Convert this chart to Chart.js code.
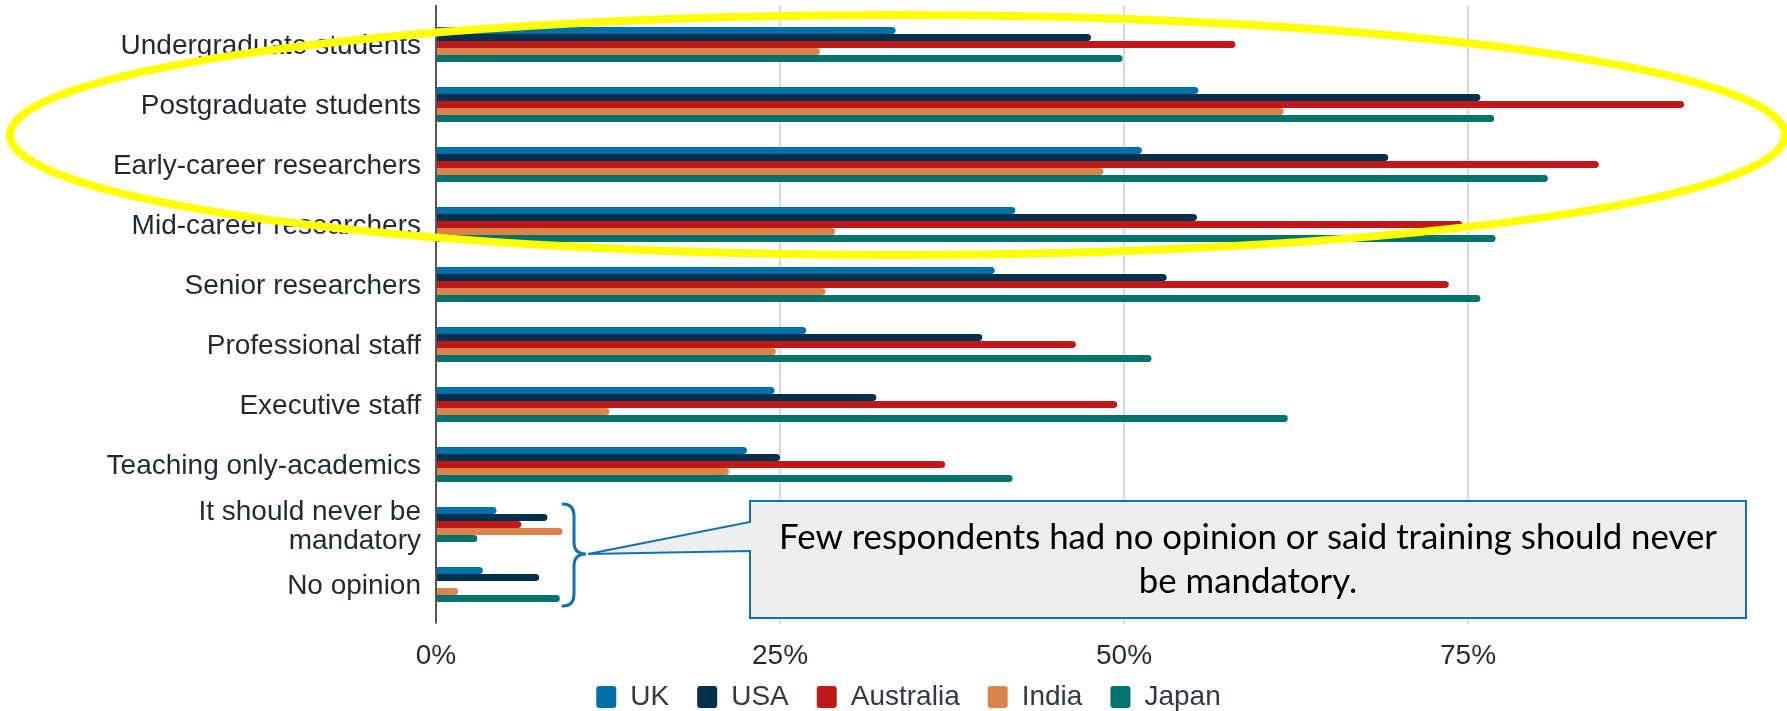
<!DOCTYPE html>
<html>
<head>
<meta charset="utf-8">
<script src="https://cdn.jsdelivr.net/npm/chart.js@4.4.0/dist/chart.umd.min.js"></script>
<style>
  html, body { margin: 0; padding: 0; background: #fff; }
  #wrap { width: 1787px; height: 711px; position: relative; }
</style>
</head>
<body>
<div id="wrap"><canvas id="chart"></canvas></div>
<script>
// category labels (y axis)
const categories = [
  'Undergraduate students',
  'Postgraduate students',
  'Early-career researchers',
  'Mid-career researchers',
  'Senior researchers',
  'Professional staff',
  'Executive staff',
  'Teaching only-academics',
  ['It should never be', 'mandatory'],
  'No opinion'
];

const countries = ['UK', 'USA', 'Australia', 'India', 'Japan'];

// percent of respondents
const ukValues        = [33.4, 55.4, 51.3, 42.1, 40.6, 26.9, 24.6, 22.6, 4.4, 3.4];
const usaValues       = [47.6, 75.9, 69.2, 55.3, 53.1, 39.7, 32.0, 25.0, 8.1, 7.5];
const australiaValues = [58.1, 90.7, 84.5, 74.6, 73.6, 46.5, 49.5, 37.0, 6.2, 0];
const indiaValues     = [27.9, 61.6, 48.5, 29.0, 28.3, 24.7, 12.6, 21.3, 9.2, 1.6];
const japanValues     = [49.9, 76.9, 80.8, 77.0, 75.9, 52.0, 61.9, 41.9, 3.0, 9.0];

const xTicks = [0, 25, 50, 75];
const calloutLines = [
  'Few respondents had no opinion or said training should never',
  'be mandatory.'
];

const colors = ['#0070AA', '#03304A', '#C0191C', '#DA844C', '#00736F'];
const seriesValues = [ukValues, usaValues, australiaValues, indiaValues, japanValues];

const labelFont = { family: '"Liberation Sans", Arial, sans-serif', size: 28 };
const textColor = '#1f2a36';
const gridColor = '#d9d9d9';
const axisColor = '#555555';

// extra decorations: top grid stubs, yellow ellipse, brace + callout
const decorations = {
  id: 'decorations',
  afterLayout(chart) {
    // let the x tick labels draw below the (squeezed) axis box
    chart.scales.x.bottom = chart.height;
  },
  beforeDatasetsDraw(chart) {
    const { ctx, chartArea } = chart;
    const xs = chart.scales.x;
    ctx.save();
    xs.ticks.forEach(t => {
      const px = xs.getPixelForValue(t.value);
      ctx.strokeStyle = t.value === 0 ? axisColor : gridColor;
      ctx.lineWidth = 2;
      ctx.beginPath();
      ctx.moveTo(px, chartArea.top - 9.5);
      ctx.lineTo(px, chartArea.top);
      ctx.stroke();
    });
    ctx.restore();
  },
  afterDraw(chart) {
    const { ctx } = chart;
    ctx.save();

    // callout box with pointer
    const bx = 750, by = 501, bw = 996, bh = 117;
    const tipX = 588, tipY = 554;
    ctx.fillStyle = '#EEEEEE';
    ctx.beginPath();
    ctx.moveTo(bx, by);
    ctx.lineTo(bx + bw, by);
    ctx.lineTo(bx + bw, by + bh);
    ctx.lineTo(bx, by + bh);
    ctx.lineTo(bx, 551);
    ctx.lineTo(tipX, tipY);
    ctx.lineTo(bx, 522);
    ctx.closePath();
    ctx.fill();
    ctx.strokeStyle = '#1071B5';
    ctx.lineWidth = 2;
    ctx.stroke();

    ctx.fillStyle = '#000';
    ctx.textAlign = 'center';
    ctx.textBaseline = 'alphabetic';
    let fs = 30;
    ctx.font = fs + 'px Lato, "Open Sans", sans-serif';
    const w = ctx.measureText(calloutLines[0]).width;
    fs = fs * 939 / w;
    ctx.font = fs.toFixed(1) + 'px Lato, "Open Sans", sans-serif';
    ctx.fillText(calloutLines[0], bx + bw / 2, 549);
    ctx.fillText(calloutLines[1], bx + bw / 2, 593);

    // brace
    ctx.strokeStyle = '#1071B5';
    ctx.lineWidth = 3;
    ctx.lineCap = 'round';
    ctx.beginPath();
    ctx.moveTo(563, 504);
    ctx.quadraticCurveTo(574, 504, 574, 516);
    ctx.lineTo(574, 542);
    ctx.quadraticCurveTo(574, 554, 586, 554);
    ctx.quadraticCurveTo(574, 554, 574, 566);
    ctx.lineTo(574, 594);
    ctx.quadraticCurveTo(574, 606, 563, 606);
    ctx.stroke();

    // yellow ellipse
    ctx.strokeStyle = '#FFFF00';
    ctx.lineWidth = 8;
    ctx.beginPath();
    ctx.ellipse(897.5, 135, 887.5, 120, 0, 0, Math.PI * 2);
    ctx.stroke();

    ctx.restore();
  }
};

new Chart(document.getElementById('chart'), {
  type: 'bar',
  data: {
    labels: categories,
    datasets: countries.map((name, i) => ({
      label: name,
      data: seriesValues[i],
      backgroundColor: colors[i],
      borderWidth: 0,
      borderRadius: 4,
      borderSkipped: 'start',
      categoryPercentage: 0.583,
      barPercentage: 1.0
    }))
  },
  options: {
    indexAxis: 'y',
    responsive: true,
    maintainAspectRatio: false,
    animation: false,
    layout: { padding: { left: 60, right: 30, top: 14.5, bottom: 0 } },
    scales: {
      x: {
        min: 0,
        max: 96,
        ticks: {
          stepSize: 25,
          padding: 16,
          font: labelFont,
          color: textColor,
          callback: v => v + '%'
        },
        afterBuildTicks: scale => {
          scale.ticks = xTicks.map(v => ({ value: v }));
        },
        afterFit: scale => {
          scale.height = 40.5;
          scale.paddingLeft = 0;
          scale.paddingRight = 0;
        },
        grid: {
          color: c => (c.tick && c.tick.value === 0) ? axisColor : gridColor,
          lineWidth: 2,
          drawTicks: true,
          tickLength: 9
        },
        border: { display: false }
      },
      y: {
        ticks: {
          autoSkip: false,
          padding: 15,
          labelOffset: 2,
          font: Object.assign({ lineHeight: 1.05 }, labelFont),
          color: textColor
        },
        afterFit: scale => {
          scale.width = 376;
          scale.paddingTop = 0;
          scale.paddingBottom = 0;
        },
        grid: { display: false, drawTicks: false },
        border: { display: false }
      }
    },
    plugins: {
      legend: {
        position: 'bottom',
        maxHeight: 56,
        labels: {
          boxWidth: 20,
          boxHeight: 22,
          useBorderRadius: true,
          borderRadius: 3,
          padding: 28,
          color: '#2d3b48',
          font: labelFont
        }
      },
      tooltip: { enabled: false }
    }
  },
  plugins: [decorations]
});
</script>
</body>
</html>
